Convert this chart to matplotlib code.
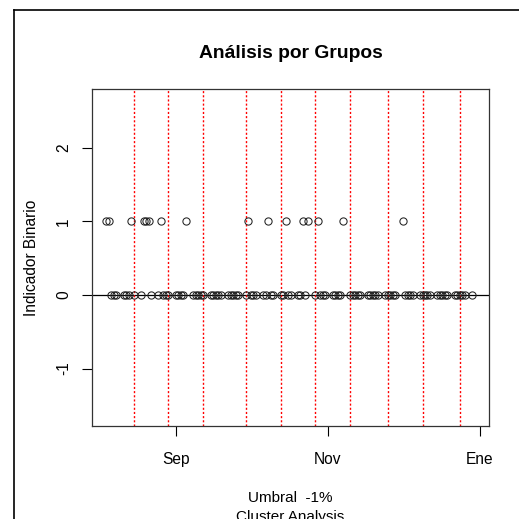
import matplotlib
matplotlib.use("Agg")
import matplotlib.pyplot as plt
import matplotlib.dates as mdates
from matplotlib.lines import Line2D
from datetime import datetime

plt.rcParams["font.family"] = ["Liberation Sans", "DejaVu Sans"]

# days with indicator = 1
ones_dates = ["2008-08-04", "2008-08-05", "2008-08-14", "2008-08-19", "2008-08-20",
              "2008-08-21", "2008-08-26", "2008-09-05", "2008-09-30", "2008-10-08",
              "2008-10-15", "2008-10-22", "2008-10-24", "2008-10-28", "2008-11-07",
              "2008-12-01"]

# days with indicator = 0 (day of month, by month)
zero_aug = [6, 7, 8, 11, 12, 13, 15, 18, 22, 25, 27, 28, 29]
zero_sep = [1, 2, 3, 4, 8, 9, 10, 11, 12, 15, 16, 17, 18, 19, 22, 23, 24, 25, 26, 29]
zero_oct = [1, 2, 3, 6, 7, 9, 10, 13, 14, 16, 17, 20, 21, 23, 27, 29, 30, 31]
zero_nov = [3, 4, 5, 6, 10, 11, 12, 13, 14, 17, 18, 19, 20, 21, 24, 25, 26, 27, 28]
zero_dec = [2, 3, 4, 5, 8, 9, 10, 11, 12, 15, 16, 17, 18, 19, 22, 23, 24, 25, 26, 29]

# group boundaries (red dotted lines)
cut_dates = ["2008-08-15", "2008-08-29", "2008-09-12", "2008-09-29", "2008-10-13",
             "2008-10-27", "2008-11-10", "2008-11-25", "2008-12-09", "2008-12-24"]

tick_dates = ["2008-09-01", "2008-11-01", "2009-01-01"]
tick_labels = ["Sep", "Nov", "Ene"]

zeros = []
for m, days in [(8, zero_aug), (9, zero_sep), (10, zero_oct), (11, zero_nov), (12, zero_dec)]:
    zeros += [datetime(2008, m, d) for d in days]
ones = [datetime.strptime(s, "%Y-%m-%d") for s in ones_dates]
cuts = [datetime.strptime(s, "%Y-%m-%d") for s in cut_dates]
ticks = [datetime.strptime(s, "%Y-%m-%d") for s in tick_dates]

fig = plt.figure(figsize=(5.19, 5.19), dpi=100)
ax = fig.add_axes([92 / 519, 1 - 426 / 519, 397 / 519, 337 / 519])

ax.axhline(0, color="black", lw=0.9, zorder=1)
for c in cuts:
    ax.axvline(c, color="red", lw=1, linestyle=(0, (1.5, 1.5)), zorder=1)

ax.plot(zeros, [0] * len(zeros), "o", mfc="none", mec="#222222", ms=5.2, mew=0.75, zorder=2)
ax.plot(ones, [1] * len(ones), "o", mfc="none", mec="#222222", ms=5.2, mew=0.75, zorder=2)

sep1 = mdates.date2num(datetime(2008, 9, 1))
ax.set_xlim(sep1 - 33.7, sep1 + 125.7)
ax.set_ylim(-1.78, 2.80)

ax.set_xticks(ticks)
ax.set_xticklabels(tick_labels)
ax.set_yticks([-1, 0, 1, 2])
ax.set_yticklabels(["-1", "0", "1", "2"], rotation=90, va="center")
ax.tick_params(direction="out", length=7, width=0.8, labelsize=11.2)
ax.tick_params(axis="x", pad=12)
ax.tick_params(axis="y", pad=8)
for s in ax.spines.values():
    s.set_linewidth(0.9)
    s.set_color("#333333")

ax.set_title("Análisis por Grupos", fontsize=13.9, fontweight="bold", pad=22)
ax.set_xlabel("Umbral  -1%\nCluster Analysis", fontsize=11, labelpad=17, linespacing=1.45)
ax.set_ylabel("Indicador Binario", fontsize=11.2, labelpad=12)

# outer frame
fig.add_artist(Line2D([14 / 519, 14 / 519], [0, 1 - 10 / 519], color="black", lw=1.2,
                      transform=fig.transFigure))
fig.add_artist(Line2D([14 / 519, 1], [1 - 10 / 519, 1 - 10 / 519], color="black", lw=1.2,
                      transform=fig.transFigure))

fig.savefig("out.png", dpi=100)
